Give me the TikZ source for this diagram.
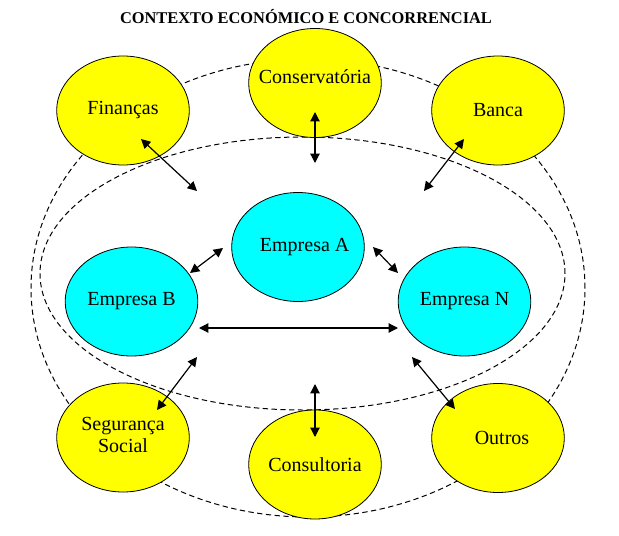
\documentclass[tikz,border=0pt]{standalone}
\usepackage{fontspec}
\setmainfont{Liberation Serif}
\usepackage{xcolor}
\usepackage{tikz}
\usetikzlibrary{shapes.geometric, arrows.meta}
\definecolor{partnerYellow}{RGB}{255, 255, 0}
\definecolor{firmCyan}{RGB}{0, 255, 255}
\newcommand{\ctr}[1]{\makebox[0pt]{#1}}

\begin{document}
\begin{tikzpicture}[x=0.75pt, y=-0.75pt, every node/.style={font=\fontsize{15}{16.5}\selectfont},
    agent/.style={draw, ellipse, line width=0.6pt, inner sep=0pt, minimum width=99.5pt, minimum height=81.75pt},
    partner/.style={agent, fill=partnerYellow},
    firm/.style={agent, fill=firmCyan},
    ring/.style={draw, ellipse, dash pattern=on 4pt off 2.6pt, line width=0.75pt, inner sep=0pt},
    link/.style={<->, >={Triangle[length=7pt, width=7pt]}, line width=0.9pt}]
    \useasboundingbox (0,0) rectangle (619,536);
    % Title
    \node[font=\fontsize{12.3}{14}\selectfont\bfseries] (title) at (306,17) {CONTEXTO ECONÓMICO E CONCORRENCIAL};
    % Rings
    \node[ring, minimum width=415.5pt, minimum height=343.5pt] (outerRing) at (308,288) {};
    \node[ring, minimum width=393.75pt, minimum height=204.75pt] (innerRing) at (302.5,273.5) {};
    % Partners
    \node[partner] (fin) at (123,110.5) {\ctr{Finanças}};
    \node[partner] (cons) at (315,83) {\ctr{\raisebox{9pt}{Conservatória}}};
    \node[partner] (banca) at (498,110.5) {\ctr{Banca}};
    \node[partner] (seg) at (123,437.5) {\ctr{\begin{tabular}{@{}c@{}}Segurança\\ Social\end{tabular}}};
    \node[partner] (consult) at (315,464.5) {\ctr{Consultoria}};
    \node[partner] (outros) at (498,438) {\ctr{\hspace{6pt}Outros}};
    % Firms
    \node[firm] (empA) at (298,247) {\ctr{\hspace{10pt}Empresa A}};
    \node[firm] (empB) at (131.5,301.5) {\ctr{Empresa B}};
    \node[firm] (empN) at (464.5,301.5) {\ctr{Empresa N}};
    % Link ends
    \coordinate (finIn) at (141,139);      \coordinate (finOut) at (197,191);
    \coordinate (consIn) at (315,112);     \coordinate (consOut) at (315,163);
    \coordinate (bancaIn) at (464,139);    \coordinate (bancaOut) at (424,191);
    \coordinate (abLeft) at (190,273);     \coordinate (abRight) at (223,248);
    \coordinate (anLeft) at (373,247);     \coordinate (anRight) at (398,273);
    \coordinate (bnLeft) at (199,328);     \coordinate (bnRight) at (398,328);
    \coordinate (segOut) at (197,357);     \coordinate (segIn) at (157,410);
    \coordinate (consultOut) at (315,384); \coordinate (consultIn) at (315,437);
    \coordinate (outrosOut) at (412,357);  \coordinate (outrosIn) at (455,409);
    % Links
    \foreach \a/\b in {finIn/finOut, consIn/consOut, bancaIn/bancaOut, abLeft/abRight, anLeft/anRight,
        bnLeft/bnRight, segOut/segIn, consultOut/consultIn, outrosOut/outrosIn}
      \draw[link] (\a) -- (\b);
\end{tikzpicture}
\end{document}
